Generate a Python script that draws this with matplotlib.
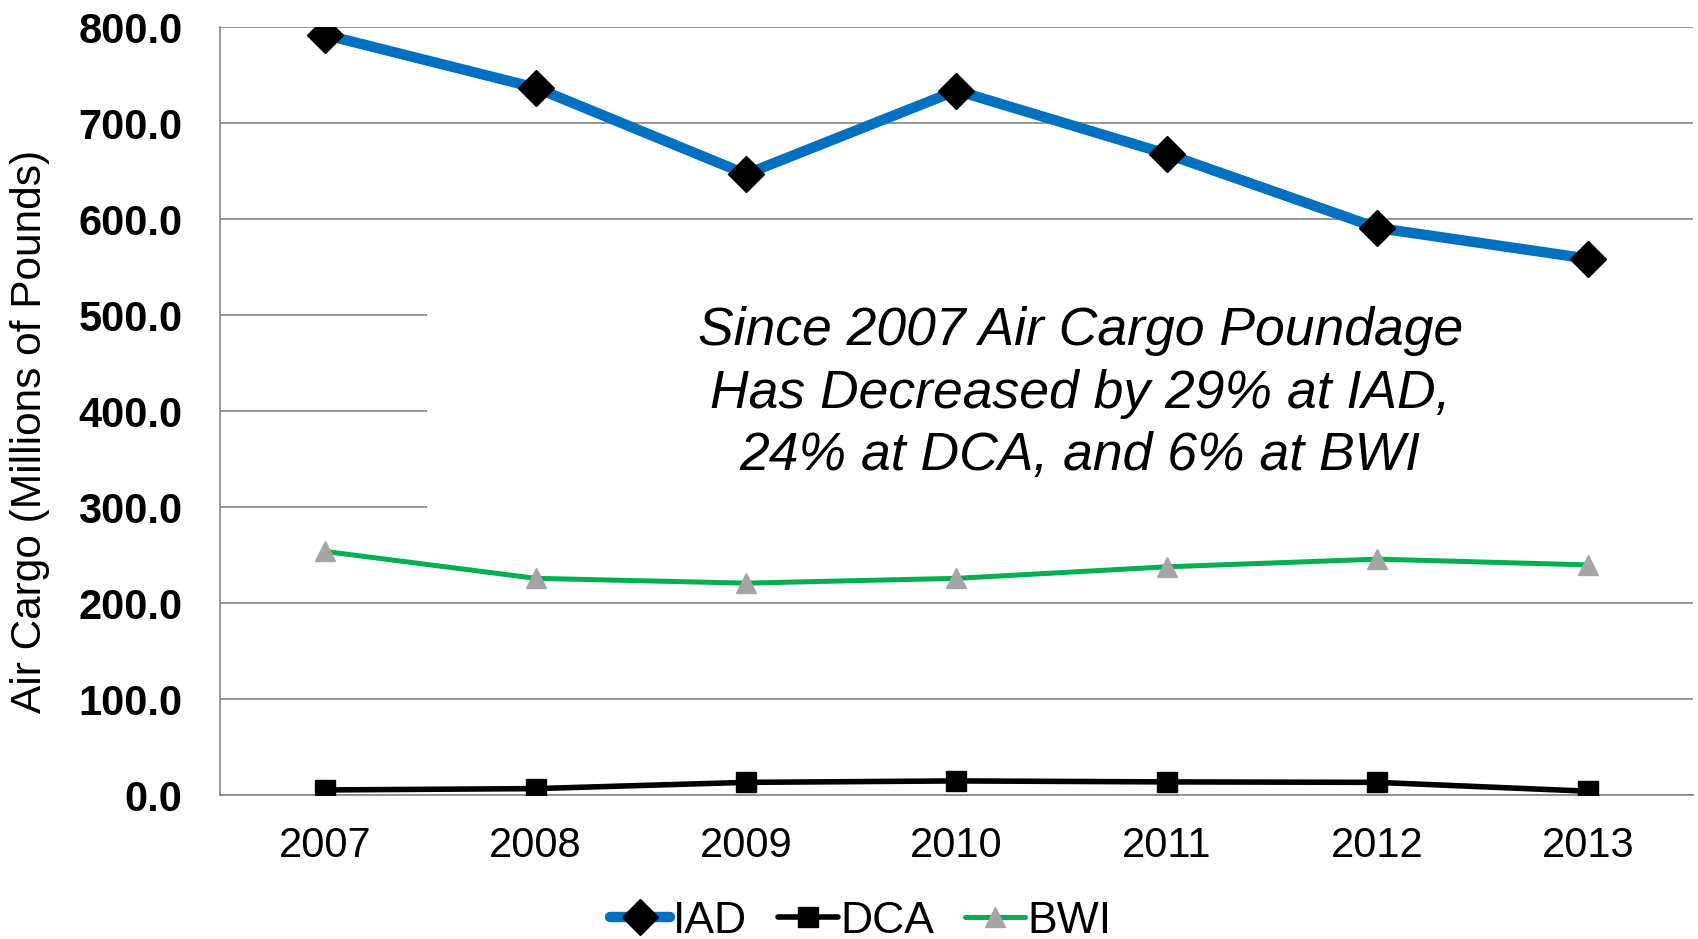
import matplotlib
matplotlib.use("Agg")
import matplotlib.pyplot as plt
from matplotlib.patches import Rectangle
import numpy as np

plt.rcParams['font.family'] = ['Liberation Sans', 'DejaVu Sans']

years = ['2007', '2008', '2009', '2010', '2011', '2012', '2013']
iad = [792, 737, 647, 734, 668, 591, 559]
dca = [5.6, 7.0, 13.5, 15.0, 14.0, 13.5, 4.3]
bwi = [254, 226, 221, 226, 238, 246, 240]

note = ("Since 2007 Air Cargo Poundage\n"
        "Has Decreased by 29% at IAD,\n"
        "24% at DCA, and 6% at BWI")

GRID = '#868686'

fig = plt.figure(figsize=(16.98, 9.39), dpi=100)
ax = fig.add_axes([0.1296, 0.153, 0.8674, 0.818])

x = np.arange(len(years))

ax.plot(x, iad, color='#0070C0', lw=7.5, marker='D', ms=18,
        mfc='black', mec='black', label='IAD', zorder=5,
        solid_capstyle='round')
ax.plot(x, dca, color='black', lw=4, marker='s', ms=14.5,
        mfc='black', mec='black', label='DCA', zorder=4,
        solid_capstyle='round')
ax.plot(x, bwi, color='#00B050', lw=3.6, marker='^', ms=14.5,
        mfc='#A5A5A5', mec='#A5A5A5', label='BWI', zorder=4,
        solid_capstyle='round')

# white box behind the note covers part of the grid
ax.add_patch(Rectangle((0.1405, 290), 0.8595, 220, facecolor='white',
                       edgecolor='none', zorder=1,
                       transform=ax.get_yaxis_transform()))
ax.text(0.584, 0.523, note, transform=ax.transAxes, ha='center', va='center',
        fontsize=38.5, style='italic', linespacing=1.33, zorder=3)

ax.set_xlim(-0.5, 6.5)
ax.set_ylim(0, 800)
ax.set_yticks(np.arange(0, 801, 100))
ax.set_yticklabels(['%.1f' % v for v in np.arange(0, 801, 100)],
                   fontsize=30, fontweight='bold')
ax.set_xticks(x)
ax.set_xticklabels(years, fontsize=30)
ax.tick_params(axis='y', length=0, pad=27)
ax.tick_params(axis='x', length=0, pad=22)

ax.grid(axis='y', color=GRID, lw=1.2, zorder=0)
ax.set_axisbelow(True)
for s in ['top', 'right']:
    ax.spines[s].set_visible(False)
for s in ['left', 'bottom']:
    ax.spines[s].set_color(GRID)
    ax.spines[s].set_linewidth(1.2)

ax.set_ylabel('Air Cargo (Millions of Pounds)', fontsize=30.5)
ax.yaxis.set_label_coords(-0.1155, 0.474)

fig.legend(loc='center', bbox_to_anchor=(0.507, 0.019), ncol=3,
           frameon=False, fontsize=32, handlelength=1.35,
           handletextpad=0.05, columnspacing=0.7, borderaxespad=0)

fig.savefig('out.png', dpi=100)
